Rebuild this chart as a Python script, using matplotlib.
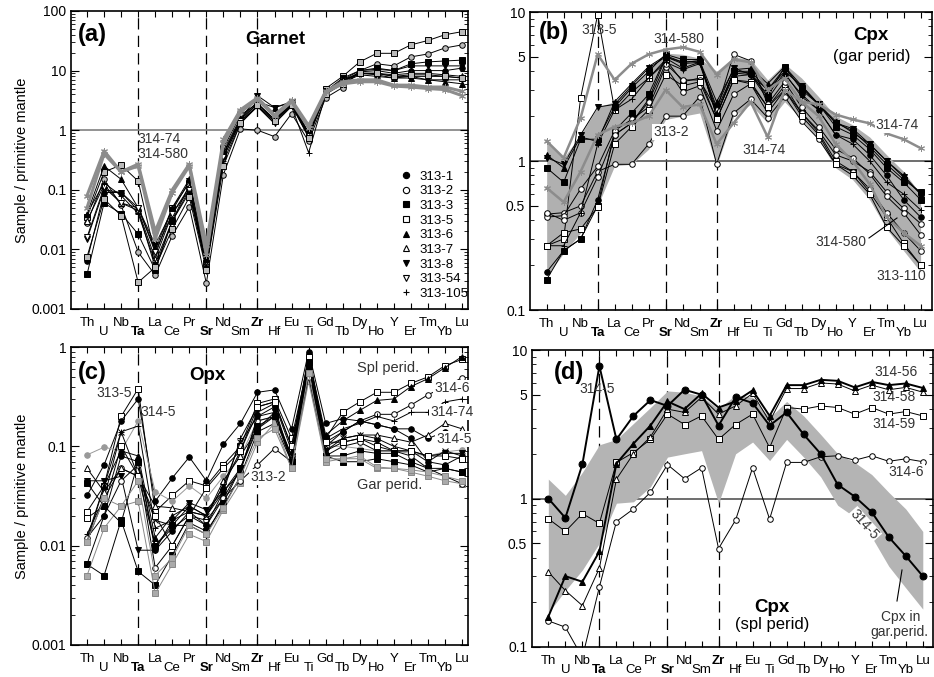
import matplotlib
matplotlib.use('Agg')
import matplotlib.pyplot as plt
import numpy as np
from matplotlib.lines import Line2D
from matplotlib.ticker import LogLocator, NullFormatter

plt.rcParams['font.family'] = ['Liberation Sans', 'DejaVu Sans']

elements = ['Th', 'U', 'Nb', 'Ta', 'La', 'Ce', 'Pr', 'Sr', 'Nd', 'Sm', 'Zr', 'Hf',
            'Eu', 'Ti', 'Gd', 'Tb', 'Dy', 'Ho', 'Y', 'Er', 'Tm', 'Yb', 'Lu']
bold_elements = ['Ta', 'Sr', 'Zr']

# ---- (a) garnet ----
grt_313_1 = [0.0065, 0.09, 0.09, 0.045, 0.005, 0.03, 0.10, 0.005, 0.35, 1.4, 2.6, 1.4, 2.7, 0.8, 4.2, 6.5, 9.5, 10, 9, 10, 10, 10, 11]
grt_313_2 = [0.028, 0.15, 0.055, 0.009, 0.0037, 0.017, 0.052, 0.0027, 0.18, 1.05, 1.0, 0.78, 1.9, 0.65, 3.5, 5.2, 10, 13, 12, 17, 19, 24, 27]
grt_313_3 = [0.0038, 0.06, 0.04, 0.018, 0.0045, 0.03, 0.12, 0.006, 0.4, 1.5, 2.8, 1.5, 2.7, 0.8, 4.5, 7, 10, 11, 10, 13, 14, 14.5, 15]
grt_313_5 = [0.035, 0.2, 0.26, 0.14, 0.008, 0.05, 0.13, 0.005, 0.5, 1.8, 2.8, 1.5, 2.8, 0.9, 5, 8, 14, 19.5, 19.5, 27, 32, 40, 45]
grt_313_6 = [0.04, 0.25, 0.15, 0.05, 0.01, 0.05, 0.15, 0.007, 0.45, 1.6, 3.0, 2.4, 2.9, 0.9, 4.3, 7, 9, 8.5, 7.5, 7.5, 7, 6.5, 6]
grt_313_7 = [0.03, 0.12, 0.06, 0.045, 0.007, 0.04, 0.11, 0.006, 0.4, 1.5, 2.8, 1.5, 2.8, 0.85, 4.2, 6.8, 9, 9, 8.5, 9, 9, 8.5, 8]
grt_313_8 = [0.015, 0.1, 0.09, 0.05, 0.012, 0.045, 0.14, 0.007, 0.4, 1.5, 3.8, 2.4, 3.0, 0.9, 4.5, 7.5, 10, 10.5, 10, 12, 12, 12, 12]
grt_313_54 = [0.016, 0.11, 0.06, 0.05, 0.009, 0.04, 0.1, 0.0055, 0.35, 1.4, 2.5, 1.3, 2.6, 0.8, 4, 6.2, 8.5, 8, 7.5, 8, 8, 8, 7.5]
grt_313_105 = [0.04, 0.13, 0.08, 0.04, 0.006, 0.03, 0.09, 0.005, 0.3, 1.3, 2.5, 1.3, 2.5, 0.42, 4, 6.5, 9, 9, 8, 8, 7, 7, 7]
grt_other = [0.0075, 0.07, 0.037, 0.0028, 0.005, 0.022, 0.075, 0.0045, 0.25, 1.3, 2.6, 1.4, 2.6, 0.75, 4, 6, 9, 9, 8, 8.5, 8.5, 8, 7.5]
grt_314_74 = [0.08, 0.45, 0.2, 0.27, 0.02, 0.1, 0.27, 0.012, 0.7, 2.2, 3.5, 1.8, 3.2, 1.2, 4.5, 6.5, 7, 7, 5.7, 5.7, 5.3, 5.3, 4.5]
grt_314_580 = [0.05, 0.4, 0.2, 0.25, 0.015, 0.09, 0.25, 0.008, 0.6, 2.0, 3.3, 1.7, 3.0, 1.1, 4.3, 6, 6.5, 6.5, 5.5, 5.3, 5, 4.8, 3.8]
grt_legend = ['313-1', '313-2', '313-3', '313-5', '313-6', '313-7', '313-8', '313-54', '313-105']

# ---- field of cpx in garnet peridotites (b, d) ----
field_lo = [0.17, 0.24, 0.33, 0.5, 0.93, 0.95, 1.2, 1.9, 2.0, 2.1, 0.93, 2.0, 2.4, 1.8, 2.5, 1.9, 1.4, 0.9, 0.75, 0.55, 0.35, 0.25, 0.18]
field_hi = [1.35, 1.05, 1.5, 2.3, 2.5, 3.2, 4.1, 5.3, 5.2, 4.9, 4.0, 5.0, 4.8, 3.5, 4.5, 3.6, 2.7, 2.0, 1.75, 1.45, 1.1, 0.85, 0.6]

# ---- (b) cpx garnet peridotites ----
cpx_314_580 = [1.36, 1.05, 1.95, 5.2, 3.5, 4.5, 5.2, 5.6, 5.8, 5.4, 3.8, 4.8, 4.6, 3.0, 3.6, 2.5, 2.0, 1.3, 1.0, 0.7, 0.42, 0.33, 0.27]
cpx_314_74 = [0.66, 0.53, 0.85, 1.5, 1.7, 1.8, 2.0, 3.0, 2.3, 2.4, 1.3, 1.8, 2.5, 1.45, 3.0, 2.5, 2.4, 2.05, 1.9, 1.79, 1.53, 1.4, 1.22]
cpx_313_5 = [0.27, 0.30, 2.66, 9.6, 2.2, 2.9, 3.6, 4.8, 3.4, 3.6, 1.9, 3.5, 3.4, 2.3, 3.2, 2.1, 1.55, 1.0, 0.85, 0.62, 0.42, 0.28, 0.2]
cpx_313_1 = [0.18, 0.25, 0.30, 0.55, 1.5, 1.8, 2.6, 4.9, 4.2, 4.6, 2.2, 3.9, 3.8, 2.6, 3.8, 2.8, 2.2, 1.5, 1.4, 1.1, 0.8, 0.55, 0.42]
cpx_313_3 = [0.16, 0.25, 0.30, 0.5, 1.6, 2.1, 2.8, 5.0, 4.6, 4.7, 2.0, 4.0, 3.9, 2.7, 4.3, 3.0, 2.4, 1.8, 1.6, 1.25, 0.95, 0.75, 0.62]
cpx_313_3b = [0.9, 0.72, 1.4, 1.4, 2.3, 3.1, 4.0, 5.2, 4.8, 4.8, 2.0, 4.0, 4.0, 3.0, 4.2, 3.1, 2.4, 1.7, 1.5, 1.2, 0.9, 0.72, 0.55]
cpx_313_8 = [1.05, 0.95, 1.5, 2.3, 2.4, 3.2, 4.2, 5.0, 4.5, 4.6, 2.3, 4.2, 3.8, 3.0, 4.0, 3.2, 2.4, 1.8, 1.65, 1.3, 1.0, 0.78, 0.6]
cpx_313_6 = [1.1, 0.9, 1.45, 1.35, 2.5, 3.3, 4.3, 5.1, 4.6, 4.7, 2.5, 4.1, 4.2, 3.3, 4.3, 3.2, 2.4, 1.85, 1.55, 1.3, 1.0, 0.8, 0.6]
cpx_313_2 = [0.44, 0.45, 0.5, 0.85, 0.95, 0.95, 1.3, 2.0, 2.0, 2.7, 0.95, 2.1, 2.6, 1.95, 2.7, 1.85, 1.4, 0.95, 0.85, 0.65, 0.45, 0.33, 0.25]
cpx_313_7 = [0.42, 0.43, 0.65, 0.92, 1.6, 1.9, 2.3, 4.3, 2.9, 3.2, 1.6, 2.8, 3.3, 2.1, 3.0, 2.1, 1.6, 1.1, 1.0, 0.85, 0.62, 0.48, 0.38]
cpx_313_54 = [0.45, 0.4, 0.45, 0.78, 1.5, 1.8, 2.5, 4.5, 3.5, 3.5, 2.2, 5.2, 4.7, 2.4, 3.4, 2.3, 1.7, 1.2, 1.05, 0.82, 0.58, 0.45, 0.32]
cpx_313_105 = [0.27, 0.27, 0.45, 1.3, 2.2, 2.6, 3.6, 4.6, 4.1, 4.5, 2.1, 3.7, 3.8, 2.8, 3.9, 2.7, 2.2, 1.5, 1.3, 1.0, 0.72, 0.6, 0.47]
cpx_313_110 = [0.27, 0.33, 0.35, 0.49, 1.3, 1.7, 2.2, 3.8, 3.2, 3.4, 1.9, 3.5, 3.3, 2.3, 3.0, 2.0, 1.5, 0.95, 0.8, 0.6, 0.36, 0.27, 0.2]

# ---- (c) opx ----
opx_313_5 = [0.022, 0.04, 0.2, 0.38, 0.022, 0.032, 0.045, 0.04, 0.065, 0.1, 0.27, 0.3, 0.12, 0.7, 0.12, 0.22, 0.28, 0.35, 0.35, 0.43, 0.5, 0.65, 0.75]
opx_314_5 = [0.032, 0.065, 0.18, 0.3, 0.028, 0.048, 0.078, 0.045, 0.105, 0.17, 0.35, 0.37, 0.15, 0.9, 0.17, 0.19, 0.18, 0.165, 0.15, 0.15, 0.12, 0.14, 0.13]
opx_gray_1 = [0.082, 0.098, 0.09, 0.18, 0.035, 0.028, 0.04, 0.03, 0.05, 0.08, 0.18, 0.2, 0.08, 0.6, 0.1, 0.1, 0.095, 0.09, 0.09, 0.085, 0.08, 0.088, 0.092]
opx_spl_1 = [0.012, 0.04, 0.09, 0.08, 0.012, 0.02, 0.025, 0.02, 0.04, 0.09, 0.22, 0.27, 0.09, 0.8, 0.13, 0.18, 0.23, 0.29, 0.3, 0.4, 0.48, 0.62, 0.8]
opx_314_6 = [0.011, 0.03, 0.06, 0.05, 0.01, 0.015, 0.02, 0.018, 0.03, 0.06, 0.18, 0.2, 0.08, 0.75, 0.1, 0.14, 0.18, 0.21, 0.21, 0.26, 0.33, 0.4, 0.49]
opx_314_74 = [0.013, 0.03, 0.14, 0.16, 0.015, 0.018, 0.022, 0.02, 0.035, 0.12, 0.25, 0.28, 0.1, 0.7, 0.12, 0.15, 0.17, 0.2, 0.18, 0.22, 0.22, 0.28, 0.3]
opx_tri_open = [0.06, 0.035, 0.06, 0.05, 0.025, 0.024, 0.022, 0.02, 0.045, 0.08, 0.15, 0.2, 0.08, 0.6, 0.09, 0.12, 0.13, 0.13, 0.12, 0.11, 0.13, 0.17, 0.15]
opx_sq_fill = [0.0065, 0.005, 0.018, 0.0055, 0.004, 0.008, 0.017, 0.014, 0.025, 0.05, 0.14, 0.17, 0.07, 0.6, 0.08, 0.07, 0.07, 0.075, 0.07, 0.065, 0.055, 0.06, 0.055]
opx_gray_2 = [0.005, 0.015, 0.025, 0.028, 0.0033, 0.0065, 0.013, 0.011, 0.023, 0.043, 0.11, 0.17, 0.06, 0.45, 0.07, 0.075, 0.075, 0.06, 0.06, 0.055, 0.05, 0.045, 0.042]
opx_tri_down = [0.045, 0.045, 0.05, 0.009, 0.009, 0.018, 0.027, 0.023, 0.035, 0.06, 0.15, 0.22, 0.07, 0.65, 0.09, 0.11, 0.12, 0.11, 0.09, 0.09, 0.08, 0.085, 0.085]
opx_313_2 = [0.012, 0.02, 0.045, 0.065, 0.006, 0.01, 0.02, 0.016, 0.03, 0.045, 0.065, 0.095, 0.07, 0.5, 0.08, 0.1, 0.11, 0.09, 0.09, 0.08, 0.06, 0.05, 0.042]
opx_circ_fill = [0.0065, 0.02, 0.08, 0.07, 0.009, 0.014, 0.022, 0.016, 0.035, 0.055, 0.2, 0.25, 0.07, 0.85, 0.11, 0.14, 0.18, 0.165, 0.15, 0.12, 0.07, 0.065, 0.08]
opx_cross = [0.011, 0.04, 0.14, 0.05, 0.018, 0.016, 0.025, 0.02, 0.04, 0.11, 0.2, 0.22, 0.08, 0.7, 0.1, 0.12, 0.13, 0.12, 0.1, 0.09, 0.07, 0.09, 0.08]
opx_sq_open = [0.019, 0.025, 0.1, 0.05, 0.02, 0.01, 0.02, 0.038, 0.06, 0.09, 0.25, 0.28, 0.1, 0.8, 0.11, 0.11, 0.12, 0.1, 0.09, 0.09, 0.08, 0.08, 0.075]
opx_sq_fill2 = [0.043, 0.025, 0.017, 0.07, 0.01, 0.016, 0.016, 0.013, 0.027, 0.06, 0.16, 0.2, 0.07, 0.7, 0.08, 0.08, 0.09, 0.085, 0.085, 0.07, 0.06, 0.06, 0.055]
opx_gray_3 = [0.011, 0.03, 0.025, 0.045, 0.005, 0.0075, 0.016, 0.013, 0.024, 0.05, 0.12, 0.15, 0.06, 0.55, 0.075, 0.075, 0.08, 0.062, 0.06, 0.058, 0.055, 0.05, 0.045]

# ---- (d) cpx spinel peridotites ----
cpx_314_5 = [1.0, 0.74, 1.7, 7.8, 2.5, 3.6, 4.6, 4.2, 5.4, 5.0, 3.1, 4.8, 4.4, 3.1, 3.8, 2.7, 2.0, 1.24, 1.03, 0.81, 0.55, 0.41, 0.3]
cpx_314_56 = [0.16, 0.3, 0.275, 0.44, 1.72, 2.34, 3.1, 4.5, 4.0, 5.1, 4.1, 4.5, 5.35, 3.6, 5.8, 5.8, 6.3, 6.2, 5.6, 6.1, 5.8, 5.95, 5.55]
cpx_314_58 = [0.32, 0.24, 0.19, 0.34, 1.35, 2.0, 2.6, 4.0, 3.8, 4.8, 3.7, 4.2, 5.1, 3.3, 5.5, 5.5, 6.0, 5.9, 5.3, 5.8, 5.4, 5.6, 5.2]
cpx_314_59 = [0.73, 0.6, 0.79, 0.68, 1.75, 2.04, 2.5, 3.7, 3.15, 3.6, 2.5, 3.15, 3.7, 2.2, 4.1, 4.0, 4.2, 4.1, 3.7, 4.1, 3.7, 3.85, 3.6]
cpx_314_6 = [0.15, 0.136, 0.085, 0.254, 0.7, 0.85, 1.1, 1.69, 1.36, 1.61, 0.46, 0.715, 1.61, 0.726, 1.75, 1.75, 1.91, 1.94, 1.81, 1.94, 1.78, 1.85, 1.77]

x = np.arange(len(elements))
dash = (0, (9, 5))
wbox = dict(facecolor='white', edgecolor='none', pad=0.6)


def px(xp, yp):
    return xp / 934.0, 1 - yp / 677.0


def setup(ax, ylo, yhi, yticks, ylabels, xlo, xhi, hline_col):
    ax.set_yscale('log')
    ax.set_ylim(ylo, yhi)
    ax.set_xlim(xlo, xhi)
    ax.set_yticks(yticks)
    ax.set_yticklabels(ylabels)
    ax.yaxis.set_minor_locator(LogLocator(base=10, subs=np.arange(2, 10)))
    ax.yaxis.set_minor_formatter(NullFormatter())
    ax.set_xticks(x[0::2], elements[0::2])
    ax.set_xticks(x[1::2], elements[1::2], minor=True)
    for lab in ax.get_xticklabels() + ax.get_xticklabels(minor=True):
        if lab.get_text() in bold_elements:
            lab.set_fontweight('bold')
    ax.tick_params(axis='x', which='both', direction='in', top=True, length=4, width=0.8, labelsize=9.5)
    ax.tick_params(axis='x', which='major', pad=6)
    ax.tick_params(axis='x', which='minor', pad=12.5)
    ax.tick_params(axis='y', which='major', direction='in', right=True, length=6, width=0.8, labelsize=10)
    ax.tick_params(axis='y', which='minor', direction='in', right=True, length=3, width=0.6)
    for s in ax.spines.values():
        s.set_linewidth(1.2)
    for el in bold_elements:
        ax.axvline(elements.index(el), color='k', lw=0.9, ls=dash, zorder=1)
    ax.axhline(1, color=hline_col, lw=1.2, zorder=1)


def draw(ax, vals, mk, fc='k', col='k', lw=0.7, ms=4, z=3):
    ax.plot(x, vals, color=col, lw=lw, marker=mk, ms=ms, mfc=fc, mec=col, mew=0.7, zorder=z)


def note(xp, yp, s, box=False, **kw):
    kw.setdefault('fontsize', 10)
    kw.setdefault('va', 'center')
    kw.setdefault('color', '#333333')
    t = fig.text(*px(xp, yp), s, **kw)
    if box:
        t.set_bbox(wbox)
    return t


fig = plt.figure(figsize=(9.34, 6.77), dpi=100)
ax_a = fig.add_axes([71 / 934, 1 - 309 / 677, 397 / 934, 298 / 677])
ax_b = fig.add_axes([530 / 934, 1 - 310 / 677, 402 / 934, 298 / 677])
ax_c = fig.add_axes([71 / 934, 1 - 645 / 677, 397 / 934, 298 / 677])
ax_d = fig.add_axes([532 / 934, 1 - 647 / 677, 401 / 934, 297 / 677])

star = (6, 2, 0)
gray = '#8c8c8c'

# (a)
setup(ax_a, 0.001, 100, [0.001, 0.01, 0.1, 1, 10, 100], ['0.001', '0.01', '0.1', '1', '10', '100'], -0.94, 22.35, '#808080')
draw(ax_a, grt_313_1, 'o', 'k')
draw(ax_a, grt_313_2, 'o', '#bbbbbb')
draw(ax_a, grt_313_3, 's', 'k')
draw(ax_a, grt_313_5, 's', '#bbbbbb')
draw(ax_a, grt_313_6, '^', 'k')
draw(ax_a, grt_313_7, '^', 'w')
draw(ax_a, grt_313_8, 'v', 'k')
draw(ax_a, grt_313_54, 'v', 'w')
draw(ax_a, grt_313_105, '+', 'k', ms=5)
draw(ax_a, grt_other, 's', '#bbbbbb')
draw(ax_a, grt_314_74, star, gray, gray, lw=2.2, ms=5, z=4)
draw(ax_a, grt_314_580, star, gray, gray, lw=2.2, ms=5, z=4)
leg_marks = [('o', 'k'), ('o', 'w'), ('s', 'k'), ('s', 'w'), ('^', 'k'), ('^', 'w'), ('v', 'k'), ('v', 'w'), ('+', 'k')]
handles = [Line2D([], [], ls='none', marker=m, mfc=f, mec='k', mew=0.8, ms=5 if m == '+' else 4.5, color='k')
           for m, f in leg_marks]
ax_a.legend(handles, grt_legend, loc='lower left', bbox_to_anchor=(0.805, 0.0), frameon=False,
            fontsize=9.5, handlelength=1.0, handletextpad=0.5, labelspacing=0.18, borderpad=0.2)
ax_a.set_ylabel('Sample / primitive mantle', fontsize=10.5, labelpad=2)
fig.text(*px(78, 35), '(a)', fontsize=17, fontweight='bold', va='center')
fig.text(*px(275, 40), 'Garnet', fontsize=13.5, fontweight='bold', va='center', ha='center')
note(137, 139, '314-74')
note(137, 154, '314-580')

# (b)
setup(ax_b, 0.1, 10, [0.1, 0.5, 1, 5, 10], ['0.1', '0.5', '1', '5', '10'], -0.98, 22.67, '#555555')
ax_b.fill_between(x, field_lo, field_hi, color='#b0b0b0', lw=0, zorder=1)
draw(ax_b, cpx_313_5, 's', 'w')
draw(ax_b, cpx_313_1, 'o', 'k')
draw(ax_b, cpx_313_3, 's', 'k')
draw(ax_b, cpx_313_3b, 's', 'k')
draw(ax_b, cpx_313_8, 'v', 'k')
draw(ax_b, cpx_313_6, '^', 'k')
draw(ax_b, cpx_313_2, 'o', 'w')
draw(ax_b, cpx_313_7, 'o', 'w')
draw(ax_b, cpx_313_54, 'o', 'w')
draw(ax_b, cpx_313_105, '+', 'k', ms=5)
draw(ax_b, cpx_313_110, 's', 'w')
draw(ax_b, cpx_314_580, star, gray, gray, lw=1.8, ms=5, z=4)
draw(ax_b, cpx_314_74, star, gray, gray, lw=1.8, ms=5, z=4)
fig.text(*px(539, 32), '(b)', fontsize=17, fontweight='bold', va='center')
note(599, 30, '313-5', ha='center', zorder=5)
note(679, 39, '314-580', ha='center')
fig.text(*px(871, 35), 'Cpx', fontsize=13.5, fontweight='bold', va='center', ha='center')
fig.text(*px(872, 57), '(gar perid)', fontsize=12, va='center', ha='center')
note(671, 132, '313-2', box=True, ha='center')
note(764, 150, '314-74', ha='center')
note(897, 125, '314-74', box=True, ha='center')
note(841, 242, '314-580', ha='center')
note(901, 276, '313-110', ha='center')
fig.add_artist(Line2D([px(869, 238)[0], px(897, 218)[0]], [px(869, 238)[1], px(897, 218)[1]], color='k', lw=0.8))

# (c)
setup(ax_c, 0.001, 1, [0.001, 0.01, 0.1, 1], ['0.001', '0.01', '0.1', '1'], -0.94, 22.35, '#808080')
draw(ax_c, opx_313_5, 's', 'w')
draw(ax_c, opx_314_5, 'o', 'k')
draw(ax_c, opx_gray_1, 'o', '#999999', '#999999')
draw(ax_c, opx_spl_1, '^', 'k')
draw(ax_c, opx_314_6, 'o', 'w')
draw(ax_c, opx_314_74, '+', 'k', ms=5)
draw(ax_c, opx_tri_open, '^', 'w')
draw(ax_c, opx_sq_fill, 's', 'k')
draw(ax_c, opx_gray_2, 's', '#aaaaaa', '#888888')
draw(ax_c, opx_tri_down, 'v', 'k')
draw(ax_c, opx_313_2, 'o', 'w')
draw(ax_c, opx_circ_fill, 'o', 'k')
draw(ax_c, opx_cross, 'x', 'k')
draw(ax_c, opx_sq_open, 's', 'w')
draw(ax_c, opx_sq_fill2, 's', 'k')
draw(ax_c, opx_gray_3, 's', '#aaaaaa', '#888888')
ax_c.set_ylabel('Sample / primitive mantle', fontsize=10.5, labelpad=2)
fig.text(*px(78, 372), '(c)', fontsize=17, fontweight='bold', va='center')
fig.text(*px(207, 375), 'Opx', fontsize=13.5, fontweight='bold', va='center', ha='center')
note(96, 393, '313-5')
note(140, 412, '314-5')
note(250, 477, '313-2', box=True)
note(388, 368, 'Spl perid.', box=True, ha='center', fontsize=10.5)
note(434, 388, '314-6', box=True)
note(430, 412, '314-74', box=True)
note(436, 439, '314-5', box=True)
note(390, 485, 'Gar perid.', ha='center', fontsize=10.5)

# (d)
setup(ax_d, 0.1, 10, [0.1, 0.5, 1, 5, 10], ['0.1', '0.5', '1', '5', '10'], -0.96, 22.6, '#555555')
ax_d.fill_between(x, field_lo, field_hi, color='#b4b4b4', lw=0, zorder=1)
draw(ax_d, cpx_314_6, 'o', 'w')
draw(ax_d, cpx_314_59, 's', 'w')
draw(ax_d, cpx_314_58, '^', 'w')
draw(ax_d, cpx_314_56, '^', 'k', lw=1.4, ms=5)
draw(ax_d, cpx_314_5, 'o', 'k', lw=1.4, ms=5)
fig.text(*px(554, 372), '(d)', fontsize=17, fontweight='bold', va='center')
note(597, 389, '314-5', ha='center')
note(896, 372, '314-56', ha='center')
note(894, 397, '314-58', ha='center')
note(894, 424, '314-59', box=True, ha='center')
note(906, 472, '314-6', box=True, ha='center')
note(864, 525, '314-5', box=True, ha='center', rotation=-48, zorder=5)
fig.text(*px(772, 607), 'Cpx', fontsize=13.5, fontweight='bold', va='center', ha='center')
fig.text(*px(772, 625), '(spl perid)', fontsize=12, va='center', ha='center')
note(901, 617, 'Cpx in', ha='center')
note(899, 632, 'gar.perid.', ha='center')
fig.add_artist(Line2D([px(897, 601)[0], px(902, 570)[0]], [px(897, 601)[1], px(902, 570)[1]], color='k', lw=0.8))

fig.savefig('out.png', dpi=100)
